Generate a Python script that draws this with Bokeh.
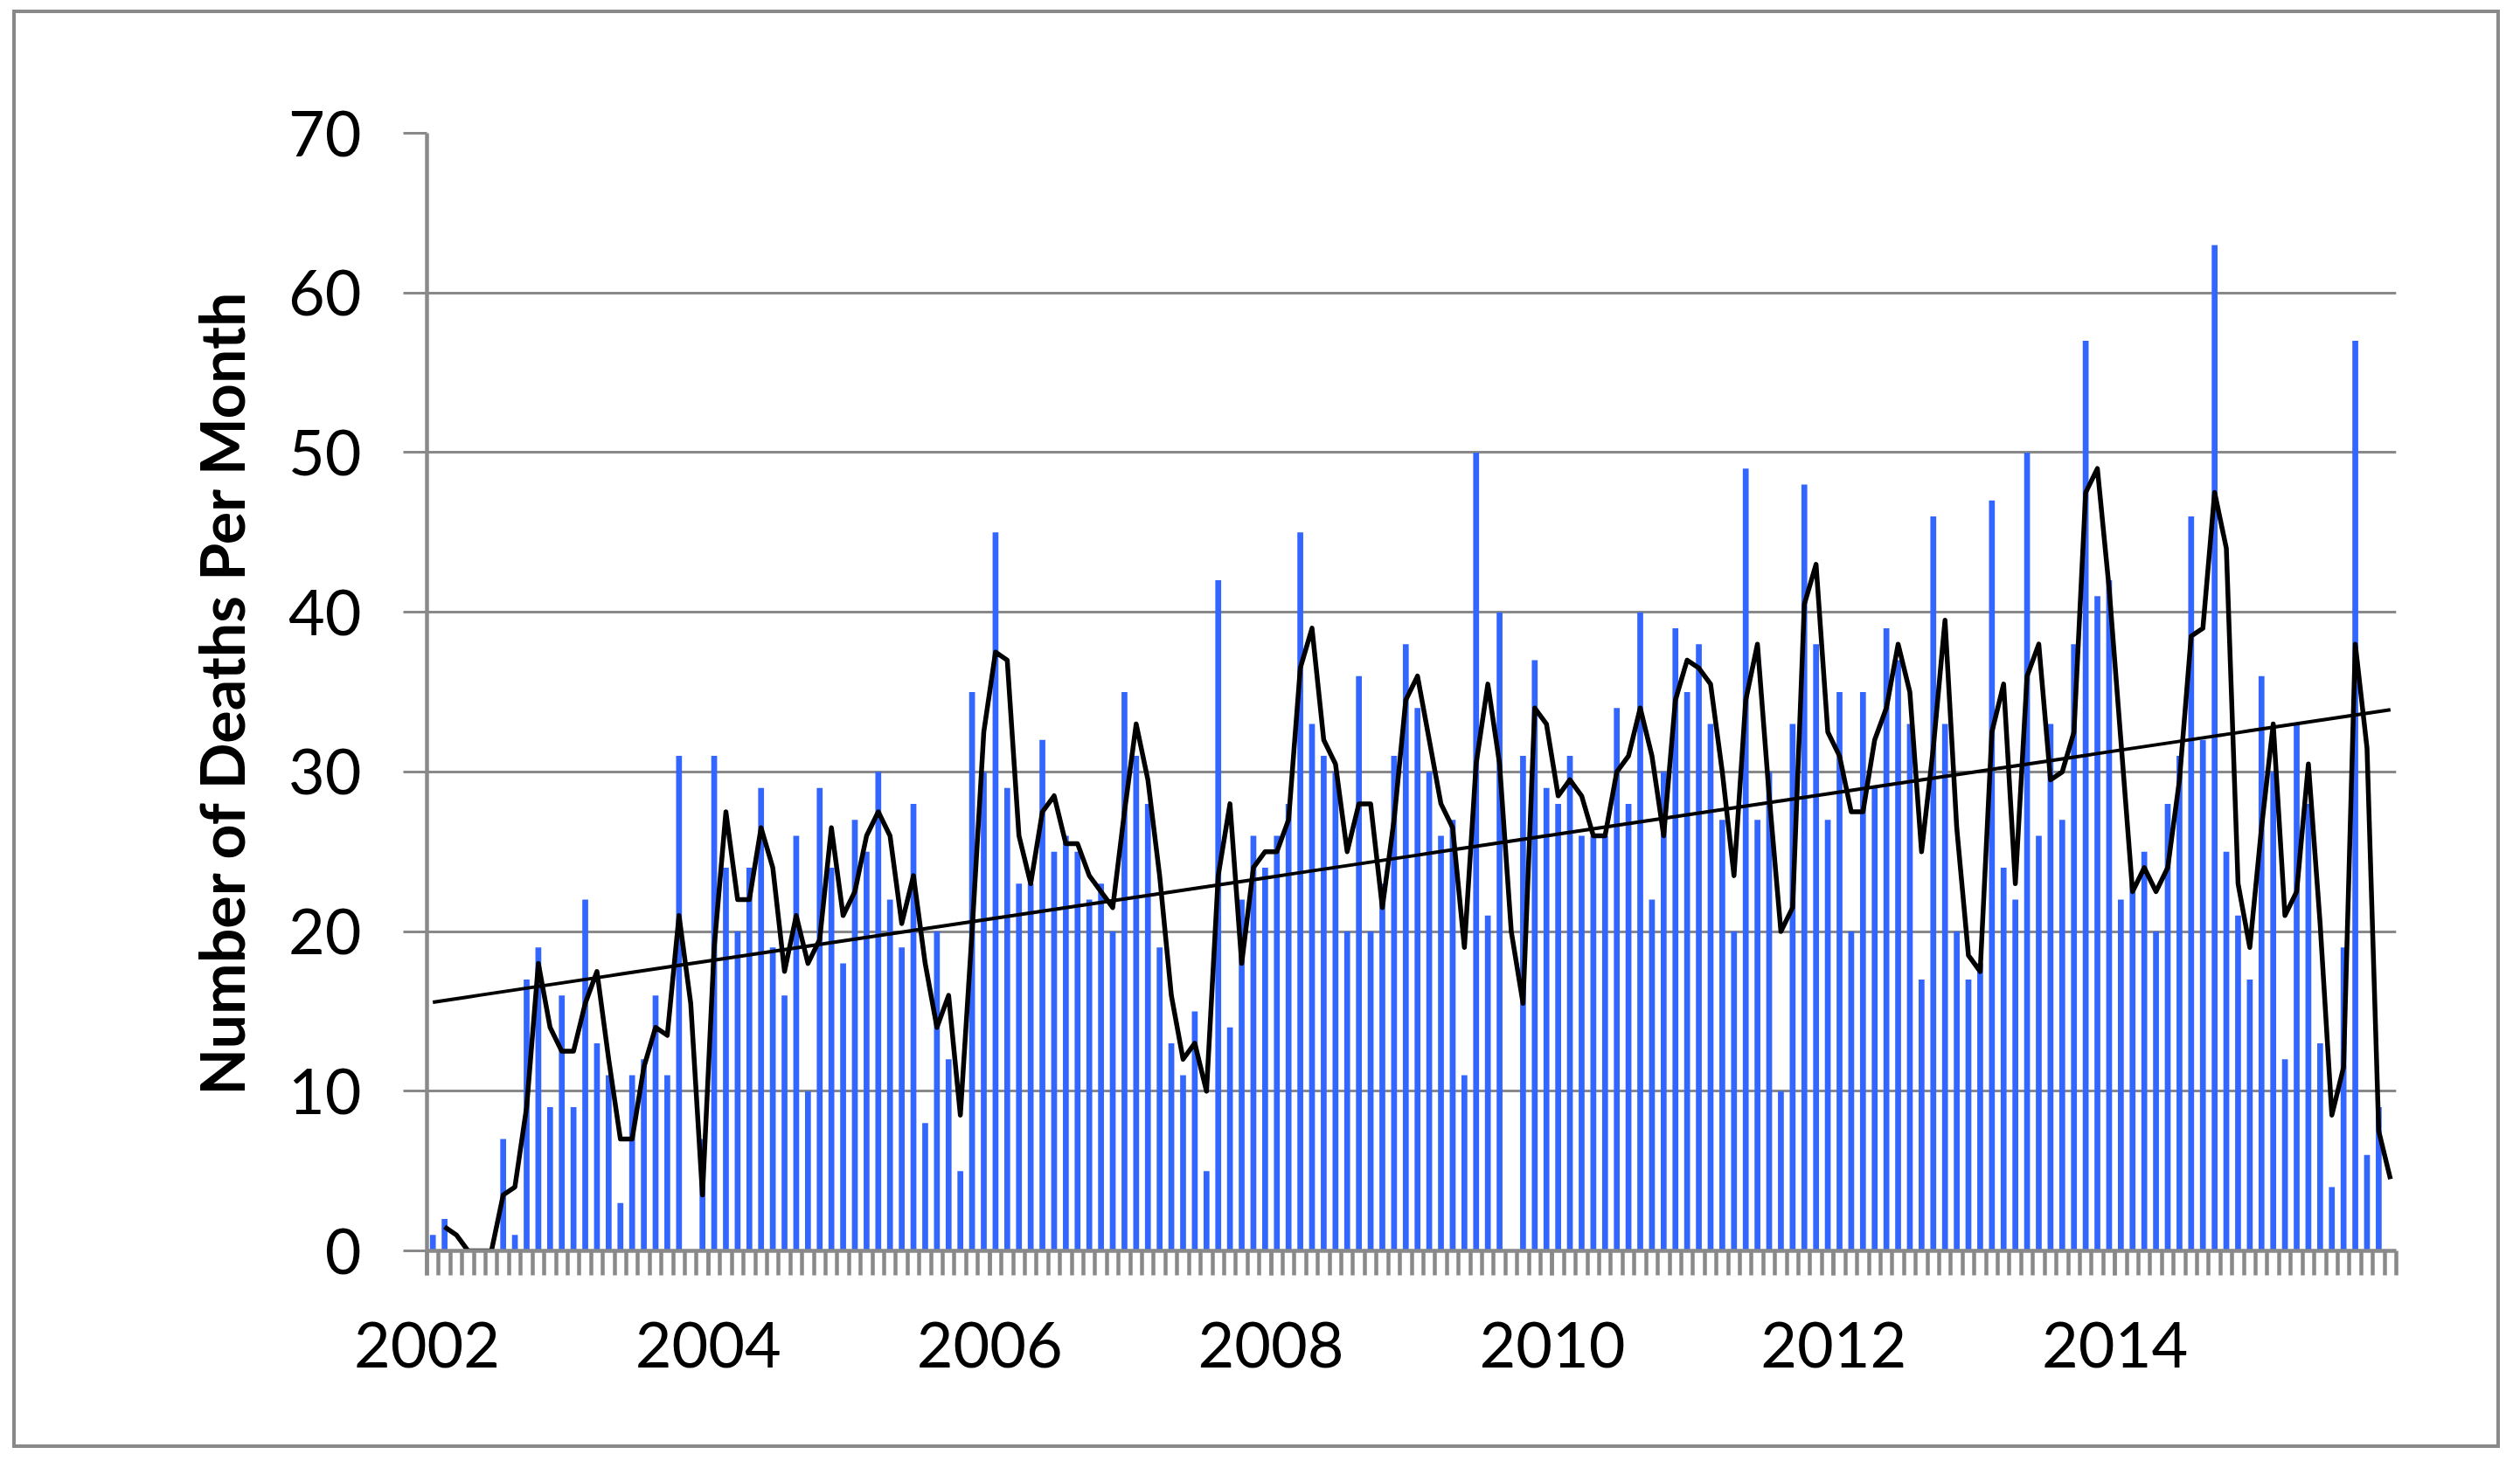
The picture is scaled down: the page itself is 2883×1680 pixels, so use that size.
import numpy as np
from bokeh.plotting import figure
from bokeh.models import Range1d, FixedTicker
from bokeh.embed import file_html
from bokeh.resources import INLINE

# ---- data (monthly deaths, Jan 2002 .. Dec 2015) ----
deaths_2002 = [1, 2, 0, 0, 0, 0, 7, 1, 17, 19, 9, 16]
deaths_2003 = [9, 22, 13, 11, 3, 11, 12, 16, 11, 31, 0, 7]
deaths_2004 = [31, 24, 20, 24, 29, 19, 16, 26, 10, 29, 24, 18]
deaths_2005 = [27, 25, 30, 22, 19, 28, 8, 20, 12, 5, 35, 30]
deaths_2006 = [45, 29, 23, 23, 32, 25, 26, 25, 22, 23, 20, 35]
deaths_2007 = [31, 28, 19, 13, 11, 15, 5, 42, 14, 22, 26, 24]
deaths_2008 = [26, 28, 45, 33, 31, 30, 20, 36, 20, 23, 31, 38]
deaths_2009 = [34, 30, 26, 27, 11, 50, 21, 40, 0, 31, 37, 29]
deaths_2010 = [28, 31, 26, 26, 26, 34, 28, 40, 22, 30, 39, 35]
deaths_2011 = [38, 33, 27, 20, 49, 27, 30, 10, 33, 48, 38, 27]
deaths_2012 = [35, 20, 35, 29, 39, 37, 33, 17, 46, 33, 20, 17]
deaths_2013 = [18, 47, 24, 22, 50, 26, 33, 27, 38, 57, 41, 42]
deaths_2014 = [22, 23, 25, 20, 28, 31, 46, 32, 63, 25, 21, 17]
deaths_2015 = [36, 30, 12, 33, 28, 13, 4, 19, 57, 6, 9, 0]

year_labels = ["2002", "2004", "2006", "2008", "2010", "2012", "2014"]
y_ticks = [0, 10, 20, 30, 40, 50, 60, 70]
y_title = "Number of Deaths Per Month"

deaths = np.array(deaths_2002 + deaths_2003 + deaths_2004 + deaths_2005 +
                  deaths_2006 + deaths_2007 + deaths_2008 + deaths_2009 +
                  deaths_2010 + deaths_2011 + deaths_2012 + deaths_2013 +
                  deaths_2014 + deaths_2015, dtype=float)
n = len(deaths)
xc = np.arange(n) + 0.5

# 2-period moving average (Excel trendline)
ma = (deaths[1:] + deaths[:-1]) / 2.0
ma_x = xc[1:]

# linear trendline (least squares)
idx = np.arange(1, n + 1)
slope, intercept = np.polyfit(idx, deaths, 1)
trend = slope * idx + intercept

GREY = "#898989"
BLUE = "#3366ff"
FONT = "Lato"

W, H = 2846, 1646
p = figure(width=W, height=H, output_backend="svg", toolbar_location=None,
           x_range=Range1d(0, n), y_range=Range1d(0, 70),
           min_border_left=470, min_border_right=123,
           min_border_top=137, min_border_bottom=230)
p.styles = {"border": f"4px solid {GREY}", "margin-left": "14px", "margin-top": "11px"}
p.outline_line_color = None
p.background_fill_color = "white"
p.border_fill_color = "white"

p.vbar(x=xc, top=deaths, width=0.5, color=BLUE, line_color=None)
p.line(ma_x, ma, color="black", line_width=5.5, line_join="round")
p.line(xc, trend, color="black", line_width=4)

# x axis
xa = p.xaxis[0]
xa.ticker = FixedTicker(ticks=[24 * i for i in range(len(year_labels))],
                        minor_ticks=list(range(0, n + 1)))
xa.major_label_overrides = {24 * i: lab for i, lab in enumerate(year_labels)}
xa.axis_line_color = GREY
xa.axis_line_width = 4.5
xa.major_tick_in = 0
xa.major_tick_out = 28
xa.minor_tick_in = 0
xa.minor_tick_out = 28
xa.major_tick_line_color = GREY
xa.minor_tick_line_color = GREY
xa.major_tick_line_width = 4.5
xa.minor_tick_line_width = 4.5
xa.major_label_text_font = FONT
xa.major_label_text_font_size = "72px"
xa.major_label_text_color = "black"
xa.major_label_standoff = 53

# y axis
ya = p.yaxis[0]
ya.ticker = FixedTicker(ticks=y_ticks)
ya.axis_line_color = GREY
ya.axis_line_width = 4.5
ya.major_tick_in = 0
ya.major_tick_out = 27
ya.major_tick_line_color = GREY
ya.major_tick_line_width = 3
ya.minor_tick_line_color = None
ya.major_label_text_font = FONT
ya.major_label_text_font_size = "72px"
ya.major_label_text_color = "black"
ya.major_label_standoff = 48
ya.axis_label = y_title
ya.axis_label_text_font = FONT
ya.axis_label_text_font_style = "bold"
ya.axis_label_text_font_size = "70px"
ya.axis_label_text_color = "black"
ya.axis_label_standoff = 32

p.xgrid.grid_line_color = None
p.ygrid.ticker = FixedTicker(ticks=y_ticks)
p.ygrid.grid_line_color = GREY
p.ygrid.grid_line_width = 3

open("out.html", "w").write(file_html(p, INLINE))
